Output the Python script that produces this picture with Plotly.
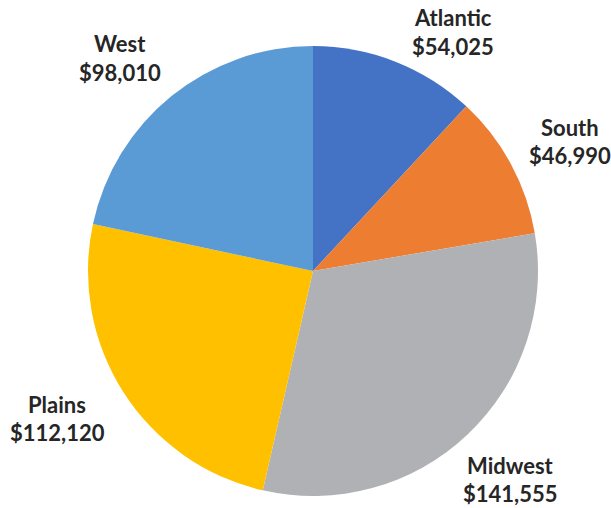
import plotly.graph_objects as go

regions = ["Atlantic", "South", "Midwest", "Plains", "West"]
sales = [54025, 46990, 141555, 112120, 98010]
colors = ["#4472C4", "#ED7D31", "#B0B1B5", "#FFC000", "#5B9BD5"]

W, H = 611, 508
cx, cy, r = 313, 271, 225

fig = go.Figure(go.Pie(
    labels=regions, values=sales, sort=False, direction="clockwise",
    rotation=0, marker=dict(colors=colors, line=dict(width=0)),
    textinfo="none", hoverinfo="label+value", showlegend=False,
    domain=dict(x=[(cx - r) / W, (cx + r) / W], y=[(H - cy - r) / H, (H - cy + r) / H]),
))

# label anchor positions (pixel centres of the two text lines)
label_pos = {
    "Atlantic": (453, 17, 46),
    "South": (570, 127, 155),
    "Midwest": (510, 465, 493),
    "Plains": (57, 404, 432),
    "West": (120, 44, 73),
}
ann = []
for name, val in zip(regions, sales):
    x, y1, y2 = label_pos[name]
    for txt, y in ((name, y1), (f"${val:,}", y2)):
        ann.append(dict(text=f"<b>{txt}</b>", x=x / W, y=1 - y / H, xref="paper", yref="paper",
                        showarrow=False, xanchor="center", yanchor="middle",
                        font=dict(family="Lato", size=22, color="#262626")))

fig.update_layout(width=W, height=H, margin=dict(l=0, r=0, t=0, b=0),
                  paper_bgcolor="white", plot_bgcolor="white", annotations=ann)
fig.write_html("out.html", config={"displayModeBar": False},
               post_script="document.body.style.margin='0px';document.body.style.overflow='hidden';")
